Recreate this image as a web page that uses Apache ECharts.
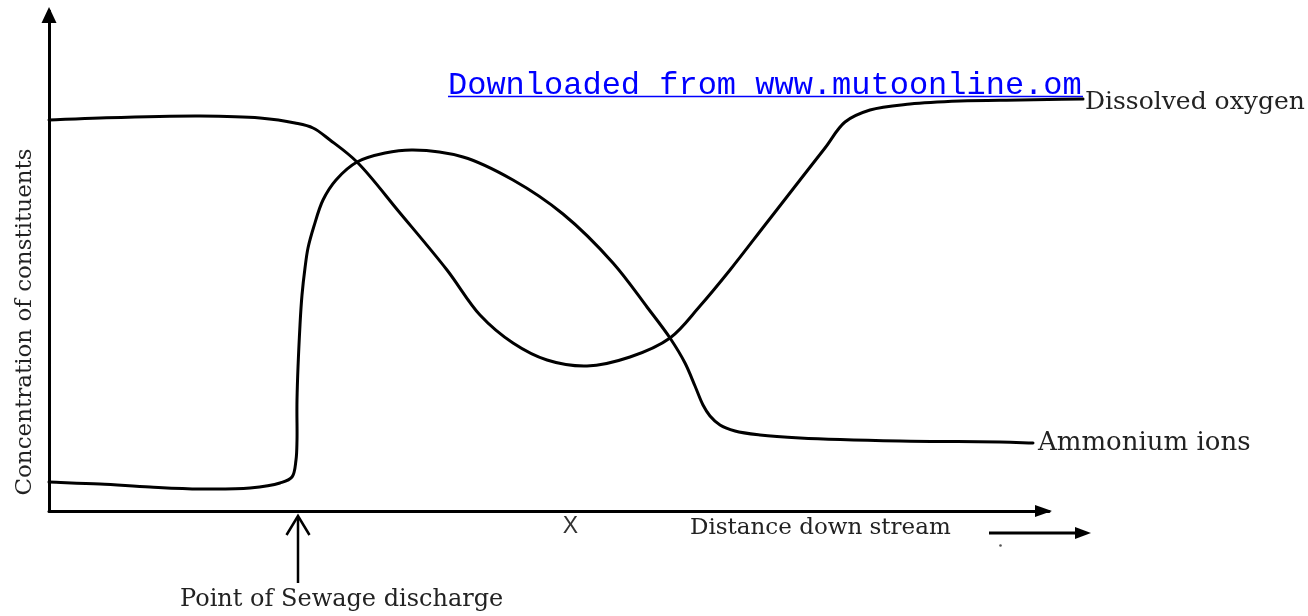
<!DOCTYPE html>
<html><head><meta charset="utf-8">
<script src="https://cdn.jsdelivr.net/npm/echarts@6/dist/echarts.min.js"></script>
<style>html,body{margin:0;padding:0;background:#fff}#c{width:1308px;height:616px}</style>
</head><body><div id="c"></div>
<script>
// Distance down stream (arbitrary units) and concentration (arbitrary units)
const doDistance = [0,51,151,211,246,264,281,308,351,398,431,464,498,538,581,621,651,681,716,751,776,796,821,861,911,971,1034];
const doConc     = [391,393,395,393,388,383,371,349,298,241,196,168,151,145,154,173,205,241,286,331,363,389,401,407,410,411,412];
const nhDistance = [0,51,101,151,201,231,243,247,248,248,251,253,256,259,265,274,287,308,336,364,414,464,514,564,598,621,636,646,654,661,671,686,711,751,851,951,984];
const nhConc     = [29,27,24,22,23,28,34,51,71,111,186,216,243,263,285,311,331,349,358,361,354,331,297,248,204,173,148,125,106,95,86,80,76,73,70,69,68];
const seriesNames = ['Dissolved oxygen', 'Ammonium ions'];
const dischargeX = 249;   // point of sewage discharge
const markX = 521;        // point X on the distance axis
const axisTitleY = 'Concentration of constituents';
const axisTitleX = 'Distance down stream';
const dischargeLabel = 'Point of Sewage discharge';
const markLabel = 'X';
const watermark = 'Downloaded from www.mutoonline.om';

const zip = (a, b) => a.map((v, i) => [v, b[i]]);
const serif = '"DejaVu Serif", "Liberation Serif", serif';

// centripetal Catmull-Rom through the (pixel) points, as cubic Bezier path
function splinePath(pts) {
  const n = pts.length;
  let d = 'M' + pts[0][0] + ',' + pts[0][1];
  for (let i = 0; i < n - 1; i++) {
    const p1 = pts[i], p2 = pts[i + 1];
    const p0 = i > 0 ? pts[i - 1] : [2 * p1[0] - p2[0], 2 * p1[1] - p2[1]];
    const p3 = i < n - 2 ? pts[i + 2] : [2 * p2[0] - p1[0], 2 * p2[1] - p1[1]];
    const a = 0.5;
    const d1 = Math.pow(Math.hypot(p1[0] - p0[0], p1[1] - p0[1]), a) || 1e-4;
    const d2 = Math.pow(Math.hypot(p2[0] - p1[0], p2[1] - p1[1]), a) || 1e-4;
    const d3 = Math.pow(Math.hypot(p3[0] - p2[0], p3[1] - p2[1]), a) || 1e-4;
    const b1 = [0, 1].map(k => (d1 * d1 * p2[k] - d2 * d2 * p0[k] + (2 * d1 * d1 + 3 * d1 * d2 + d2 * d2) * p1[k]) / (3 * d1 * (d1 + d2)));
    const b2 = [0, 1].map(k => (d3 * d3 * p1[k] - d2 * d2 * p3[k] + (2 * d3 * d3 + 3 * d3 * d2 + d2 * d2) * p2[k]) / (3 * d3 * (d3 + d2)));
    d += ' C' + b1[0] + ',' + b1[1] + ' ' + b2[0] + ',' + b2[1] + ' ' + p2[0] + ',' + p2[1];
  }
  return d;
}

function curveSeries(name, data, fontSize, labelDx, labelDy) {
  return {
    name: name, type: 'custom', coordinateSystem: 'cartesian2d', xAxisIndex: 0, yAxisIndex: 0,
    data: data, clip: false, silent: true,
    encode: {x: 0, y: 1},
    renderItem: function (params, api) {
      if (params.dataIndex !== 0) return null;
      const pts = data.map(p => api.coord(p));
      const last = pts[pts.length - 1];
      return {
        type: 'group',
        children: [
          {type: 'path', shape: {pathData: splinePath(pts)}, style: {stroke: '#000', lineWidth: 3, fill: 'none', lineJoin: 'round', lineCap: 'round'}},
          {type: 'text', style: {text: name, x: last[0] + labelDx, y: last[1] + labelDy, fill: '#222', font: fontSize + 'px ' + serif, align: 'left', verticalAlign: 'middle'}}
        ]
      };
    }
  };
}

const chart = echarts.init(document.getElementById('c'), null, {renderer: 'canvas'});
const option = {
  animation: false,
  backgroundColor: '#fff',
  grid: {left: 49, top: 11, width: 1000, height: 500},
  xAxis: {
    type: 'value', min: 0, max: 1000,
    axisLine: {show: true, lineStyle: {color: '#000', width: 3}, symbol: ['none', 'triangle'], symbolSize: [12, 17], symbolOffset: [0, -5.5]},
    axisTick: {show: false}, axisLabel: {show: false}, splitLine: {show: false}
  },
  yAxis: {
    type: 'value', min: 0, max: 500,
    axisLine: {show: true, lineStyle: {color: '#000', width: 3}, symbol: ['none', 'triangle'], symbolSize: [15, 16], symbolOffset: [0, -4]},
    axisTick: {show: false}, axisLabel: {show: false}, splitLine: {show: false}
  },
  series: [
    curveSeries(seriesNames[0], zip(doDistance, doConc), 25, 2, 3),
    curveSeries(seriesNames[1], zip(nhDistance, nhConc), 26, 5, 0)
  ]
};
chart.setOption(option);

const p0 = chart.convertToPixel({gridIndex: 0}, [dischargeX, 0]);
const pm = chart.convertToPixel({gridIndex: 0}, [markX, 0]);
chart.setOption({
  graphic: [
    {type: 'line', shape: {x1: p0[0], y1: p0[1] + 6, x2: p0[0], y2: 583}, style: {stroke: '#000', lineWidth: 2.5}},
    {type: 'polyline', shape: {points: [[p0[0] - 11.5, p0[1] + 24], [p0[0], p0[1] + 5], [p0[0] + 11.5, p0[1] + 24]]}, style: {stroke: '#000', lineWidth: 2.5, fill: null}},
    {type: 'line', shape: {x1: 989, y1: 533, x2: 1078, y2: 533}, style: {stroke: '#000', lineWidth: 3}},
    {type: 'polygon', shape: {points: [[1075, 527], [1091, 533], [1075, 539]]}, style: {fill: '#000'}},
    {type: 'circle', shape: {cx: 1000.5, cy: 545.5, r: 1.3}, style: {fill: '#555'}},
    {type: 'text', x: 25, y: 322, rotation: Math.PI / 2, style: {text: axisTitleY, fill: '#222', font: '23px ' + serif, align: 'center', verticalAlign: 'middle'}},
    {type: 'text', style: {text: axisTitleX, x: 690, y: 528, fill: '#222', font: '23px ' + serif, align: 'left', verticalAlign: 'middle'}},
    {type: 'text', style: {text: markLabel, x: pm[0] + 0.5, y: 527, fill: '#333', font: '23px "Liberation Sans", sans-serif', align: 'center', verticalAlign: 'middle'}},
    {type: 'text', style: {text: dischargeLabel, x: 180, y: 600, fill: '#222', font: '24px ' + serif, align: 'left', verticalAlign: 'middle'}},
    {type: 'text', style: {text: watermark, x: 448, y: 86, fill: '#0000ff', font: '32px "Liberation Mono", monospace', align: 'left', verticalAlign: 'middle'}},
    {type: 'line', shape: {x1: 448, y1: 96.5, x2: 1083, y2: 96.5}, style: {stroke: '#0000ff', lineWidth: 1.5}}
  ]
});
</script></body></html>
